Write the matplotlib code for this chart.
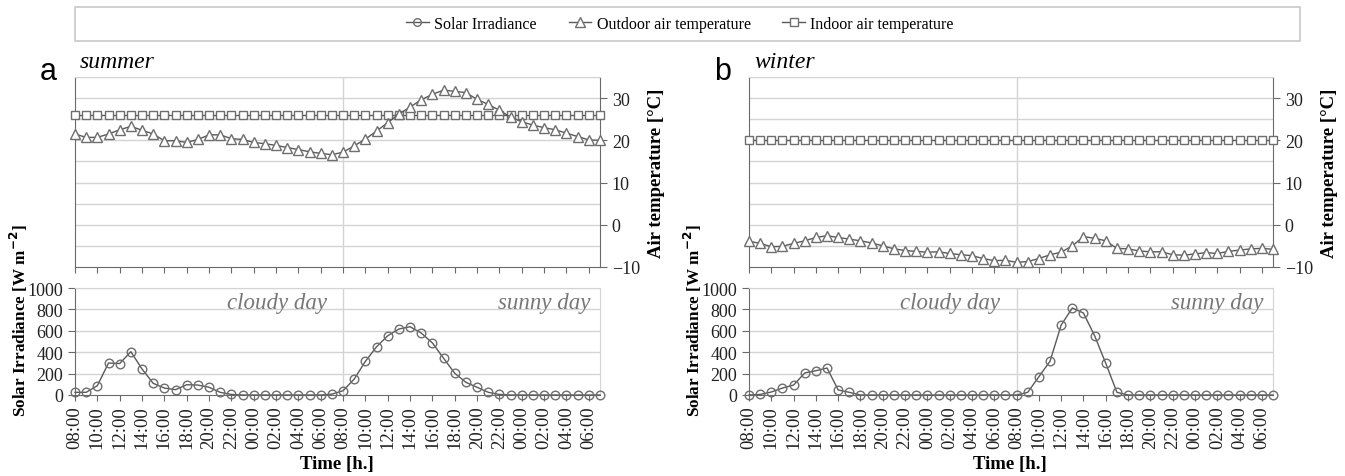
import matplotlib
matplotlib.use("Agg")
import matplotlib.pyplot as plt
from matplotlib.lines import Line2D
from matplotlib.patches import Rectangle

plt.rcParams['font.family'] = ['Liberation Serif', 'DejaVu Serif']

tick_labels = ["08:00", "10:00", "12:00", "14:00", "16:00", "18:00", "20:00", "22:00",
               "00:00", "02:00", "04:00", "06:00",
               "08:00", "10:00", "12:00", "14:00", "16:00", "18:00", "20:00", "22:00",
               "00:00", "02:00", "04:00", "06:00"]

summer_outdoor = [21.5, 20.7, 20.7, 21.5, 22.5, 23.3, 22.4, 21.5, 19.9, 19.9, 19.5, 20.2,
                  21.3, 21.3, 20.4, 20.2, 19.5, 19.2, 18.8, 18.3, 17.8, 17.3, 16.9, 16.6,
                  17.2, 18.7, 20.3, 22.2, 24.2, 26.2, 27.9, 29.6, 30.9, 31.9, 31.6, 31.3,
                  29.7, 28.5, 27.1, 25.5, 24.4, 23.6, 23.0, 22.5, 21.7, 20.9, 20.1, 20.0]
summer_indoor = [26.0] * 48
summer_solar = [25, 25, 87, 299, 294, 405, 243, 109, 65, 50, 96, 93,
                72, 25, 5, 0, 0, 0, 0, 0, 0, 0, 0, 8,
                40, 150, 315, 451, 554, 617, 638, 579, 486, 343, 203, 118,
                72, 25, 5, 0, 0, 0, 0, 0, 0, 0, 0, 0]

winter_outdoor = [-3.9, -4.4, -5.2, -5.1, -4.4, -3.8, -3.0, -2.6, -3.0, -3.4, -3.8, -4.3,
                  -5.0, -5.7, -6.1, -6.3, -6.5, -6.4, -6.8, -7.1, -7.3, -8.0, -8.5, -8.4,
                  -8.9, -8.7, -8.0, -7.1, -6.5, -5.0, -2.8, -3.2, -3.8, -5.6, -5.7, -6.2,
                  -6.4, -6.4, -7.1, -7.2, -6.9, -6.6, -6.8, -6.3, -6.0, -5.7, -5.6, -5.8]
winter_indoor = [20.0] * 48
winter_solar = [0, 5, 28, 65, 93, 206, 227, 252, 47, 25, 0, 0,
                0, 0, 0, 0, 0, 0, 0, 0, 0, 0, 0, 0,
                0, 25, 171, 315, 654, 813, 766, 554, 296, 25, 0, 0,
                0, 0, 0, 0, 0, 0, 0, 0, 0, 0, 0, 0]

hours = list(range(48))

W, H = 1345, 477
fig = plt.figure(figsize=(W / 100, H / 100), dpi=100)

def fx(px):
    return px / W

def fy(py):
    return 1 - py / H

LINE_C = '#5a5a5a'
MK_C = '#6e6e6e'
GRID_C = '#d4d4d4'
SPINE_C = '#6a6a6a'

def style_common(ax):
    ax.set_xlim(0, 47)
    ax.set_xticks(range(0, 48, 2))
    ax.grid(False)
    ax.axvline(24, color=GRID_C, lw=1, zorder=0)
    for s in ['top', 'right']:
        ax.spines[s].set_color(GRID_C)
    for s in ['left', 'bottom']:
        ax.spines[s].set_color(SPINE_C)
    ax.tick_params(axis='both', colors='#222222', labelsize=11.5, direction='out', length=4,
                   color=SPINE_C)

def make_panel(left_px, right_px, outdoor, indoor, solar, letter, season, cloudy_x, sunny_x):
    ax1 = fig.add_axes([fx(left_px), fy(268), fx(right_px - left_px), (268 - 78) / H])
    ax2 = fig.add_axes([fx(left_px), fy(396), fx(right_px - left_px), (396 - 289) / H])

    # Temperature panel
    style_common(ax1)
    ax1.set_ylim(-10, 35)
    for v in range(-5, 36, 5):
        ax1.axhline(v, color=GRID_C, lw=1, zorder=0)
    ax1.yaxis.tick_right()
    ax1.yaxis.set_label_position('right')
    ax1.set_yticks([-10, 0, 10, 20, 30])
    ax1.spines['right'].set_color(SPINE_C)
    ax1.tick_params(axis='y', labelsize=13, length=5)
    ax1.set_xticklabels([])
    ax1.set_ylabel('Air temperature [°C]', fontsize=13.5, fontweight='bold', labelpad=6)
    ax1.plot(hours, indoor, color=LINE_C, lw=1, marker='s', ms=6.2, mfc='white',
             mec=MK_C, mew=1.0, clip_on=False, zorder=3)
    ax1.plot(hours, outdoor, color=LINE_C, lw=1, marker='^', ms=7, mfc='white',
             mec=MK_C, mew=1.0, clip_on=False, zorder=4)

    # Solar panel
    style_common(ax2)
    ax2.set_ylim(0, 1000)
    for v in range(200, 1001, 200):
        ax2.axhline(v, color=GRID_C, lw=1, zorder=0)
    ax2.set_yticks(range(0, 1001, 200))
    ax2.tick_params(axis='y', labelsize=13, length=5)
    ax2.set_xticklabels(tick_labels, rotation=90, fontsize=13.5)
    ax2.plot(hours, solar, color=LINE_C, lw=1, marker='o', ms=6.2, mfc='none',
             mec=MK_C, mew=1.0, clip_on=False, zorder=3)
    ax2.text(cloudy_x, 960, 'cloudy day', ha='right', va='top', style='italic',
             fontsize=16.5, color='#777777')
    ax2.text(sunny_x, 960, 'sunny day', ha='right', va='top', style='italic',
             fontsize=16.5, color='#777777')
    ax2.set_ylabel('Solar Irradiance [W m$^{\\mathbf{-2}}$]', fontsize=12.3,
                   fontweight='bold', labelpad=4)
    ax2.yaxis.set_label_coords(-0.085, 0.70)

    fig.text(fx(left_px - 35), fy(72), letter, fontsize=22, family='Liberation Sans',
             ha='left', va='center')
    fig.text(fx(left_px + 5), fy(62), season, fontsize=17, style='italic',
             ha='left', va='center')
    return ax1, ax2

make_panel(75, 600, summer_outdoor, summer_indoor, summer_solar, 'a', 'summer', 22.6, 46.1)
make_panel(749, 1273, winter_outdoor, winter_indoor, winter_solar, 'b', 'winter', 22.5, 46.1)

fig.text(fx(337), fy(465), 'Time [h.]', fontsize=13.5, fontweight='bold', ha='center', va='center')
fig.text(fx(1010), fy(465), 'Time [h.]', fontsize=13.5, fontweight='bold', ha='center', va='center')

# Legend box
fig.patches.append(Rectangle((fx(75), fy(42)), fx(1300 - 75), (42 - 8) / H,
                             transform=fig.transFigure, fill=False,
                             edgecolor='#c8c8c8', lw=1.2))
handles = [
    Line2D([], [], color=LINE_C, lw=1, marker='o', ms=5.5, mfc='none', mec=MK_C),
    Line2D([], [], color=LINE_C, lw=1, marker='^', ms=6.5, mfc='white', mec=MK_C),
    Line2D([], [], color=LINE_C, lw=1, marker='s', ms=5.5, mfc='white', mec=MK_C),
]
fig.legend(handles, ['Solar Irradiance', 'Outdoor air temperature', 'Indoor air temperature'],
           loc='center', bbox_to_anchor=(fx(680), fy(25)), ncol=3, frameon=False,
           fontsize=11.5, handlelength=1.4, columnspacing=2.0, handletextpad=0.35)

fig.savefig('out.png', dpi=100)
